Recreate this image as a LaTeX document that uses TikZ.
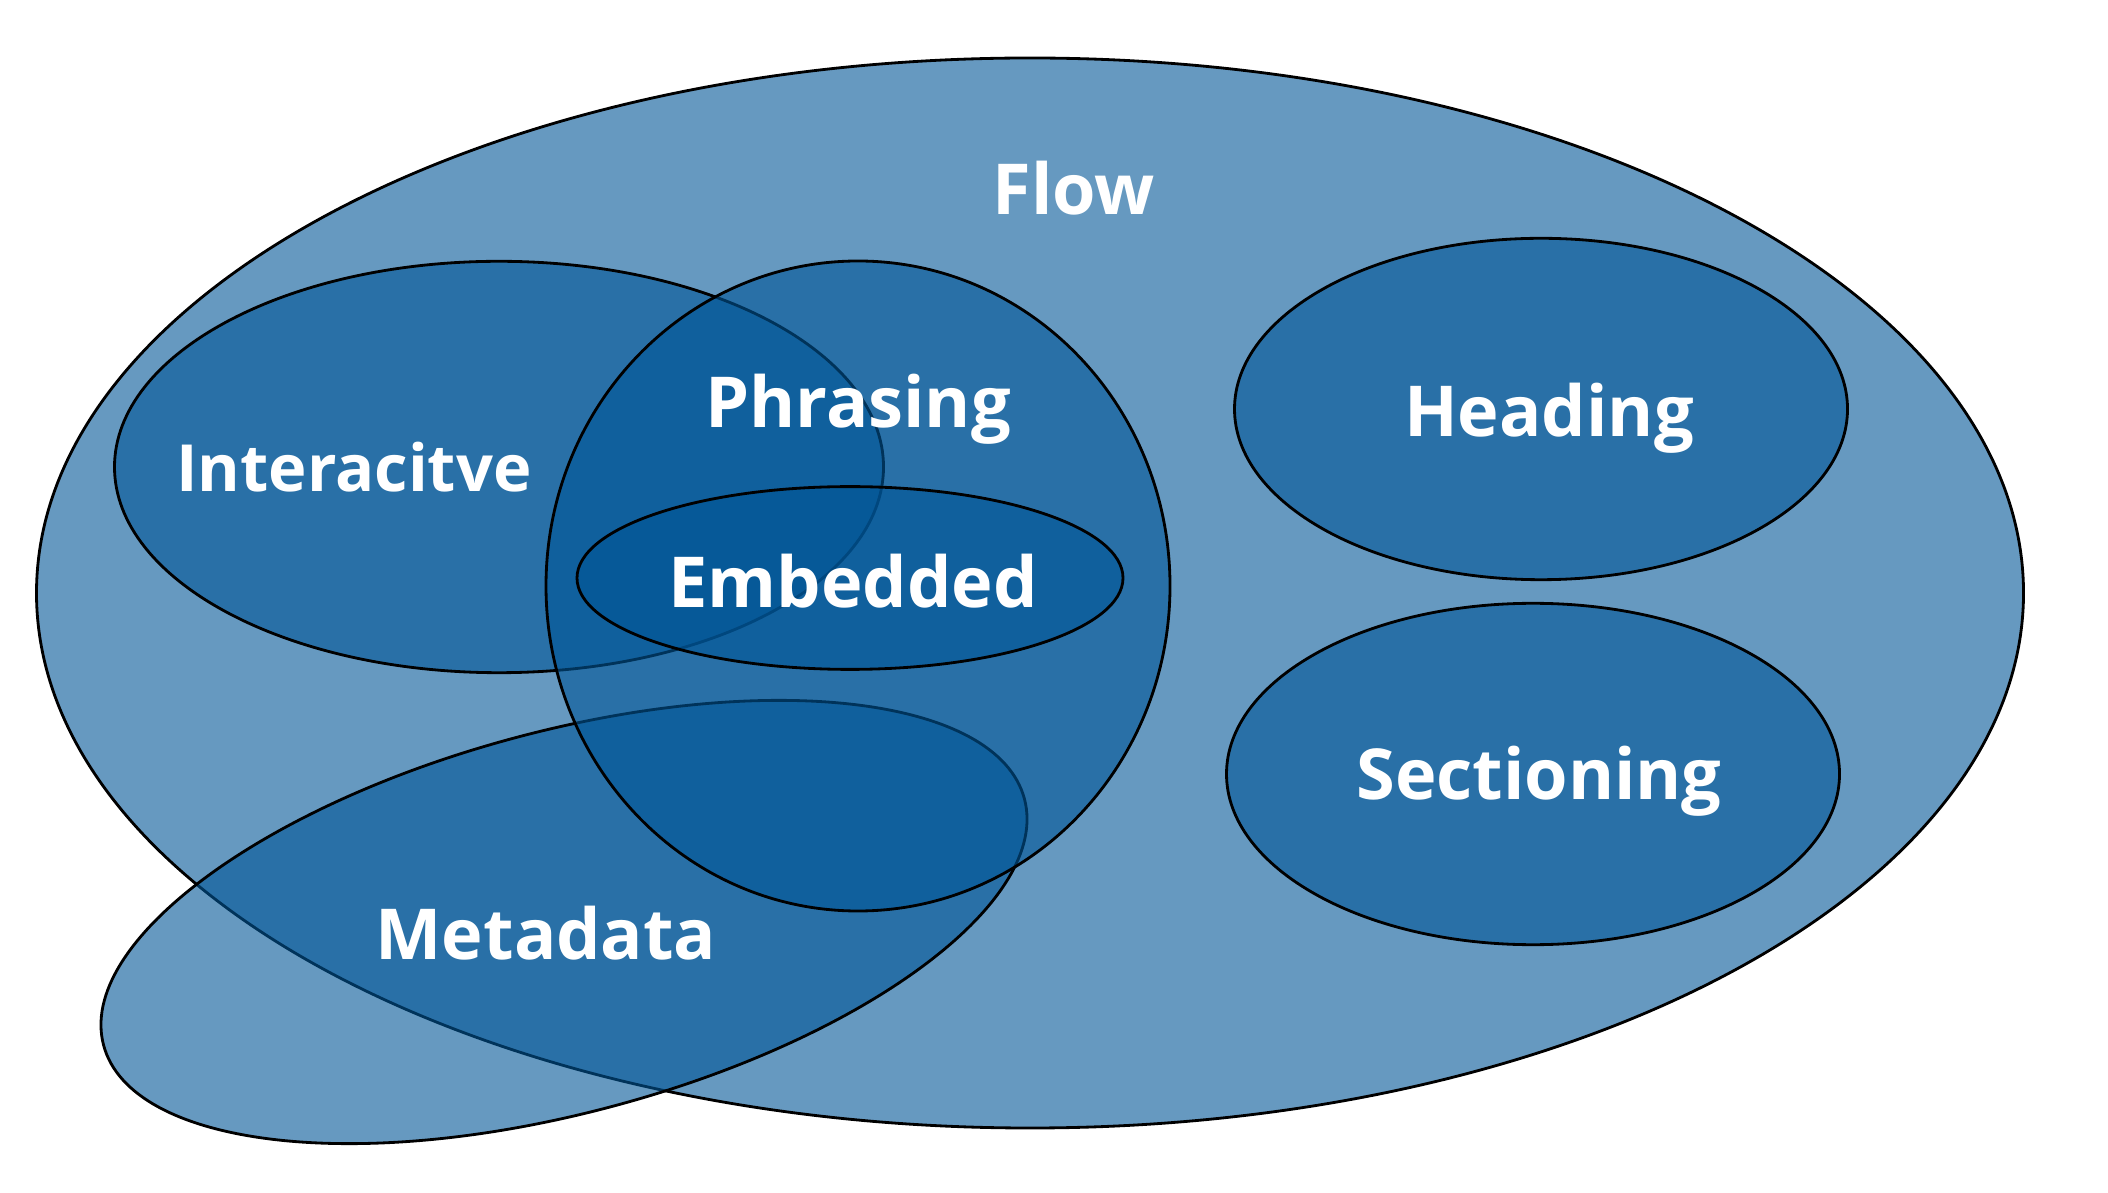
\documentclass[tikz,border=0pt]{standalone}
\usepackage{fontspec}
\setmainfont{Open Sans}
\usepackage{tikz}
\usetikzlibrary{positioning}
\usepackage{xcolor}
\definecolor{setblue}{RGB}{0,85,150}

\begin{document}
\begin{tikzpicture}[
    set/.style={draw=black,line width=0.8pt,fill=setblue,fill opacity=0.6},
    lbl/.style={anchor=base,text=white,font=\bfseries\fontsize{20}{24}\selectfont}
  ]
      \useasboundingbox (0,0) rectangle (21.08,11.92);
      % Outer set
      \draw[set] (10.30,5.99) ellipse (9.935 and 5.35);
      % Overlapping sets
      \draw[set] (4.99,7.25) ellipse (3.845 and 2.057);
      \draw[set,rotate around={15:(5.64,2.70)}] (5.64,2.70) ellipse (4.766 and 1.906);
      \draw[set] (8.58,6.06) ellipse (3.12 and 3.25);
      \draw[set] (8.50,6.14) ellipse (2.73 and 0.914);
      % Separate sets
      \draw[set] (15.41,7.83) ellipse (3.065 and 1.707);
      \draw[set] (15.33,4.18) ellipse (3.065 and 1.707);
      % Labels
      \node[lbl] (flow) at (10.74,9.77) {Flow};
      \node[lbl,font=\bfseries\fontsize{18.5}{22}\selectfont] (interactive) at (3.54,7.00) {Interacitve};
      \node[lbl] (phrasing) at (8.58,7.64) {Phrasing};
      \node[lbl] (embedded) at (8.53,5.84) {Embedded};
      \node[lbl] (heading) at (15.49,7.55) {Heading};
      \node[lbl] (sectioning) at (15.39,3.93) {Sectioning};
      \node[lbl] (metadata) at (5.46,2.33) {Metadata};
    \end{tikzpicture}
\end{document}
